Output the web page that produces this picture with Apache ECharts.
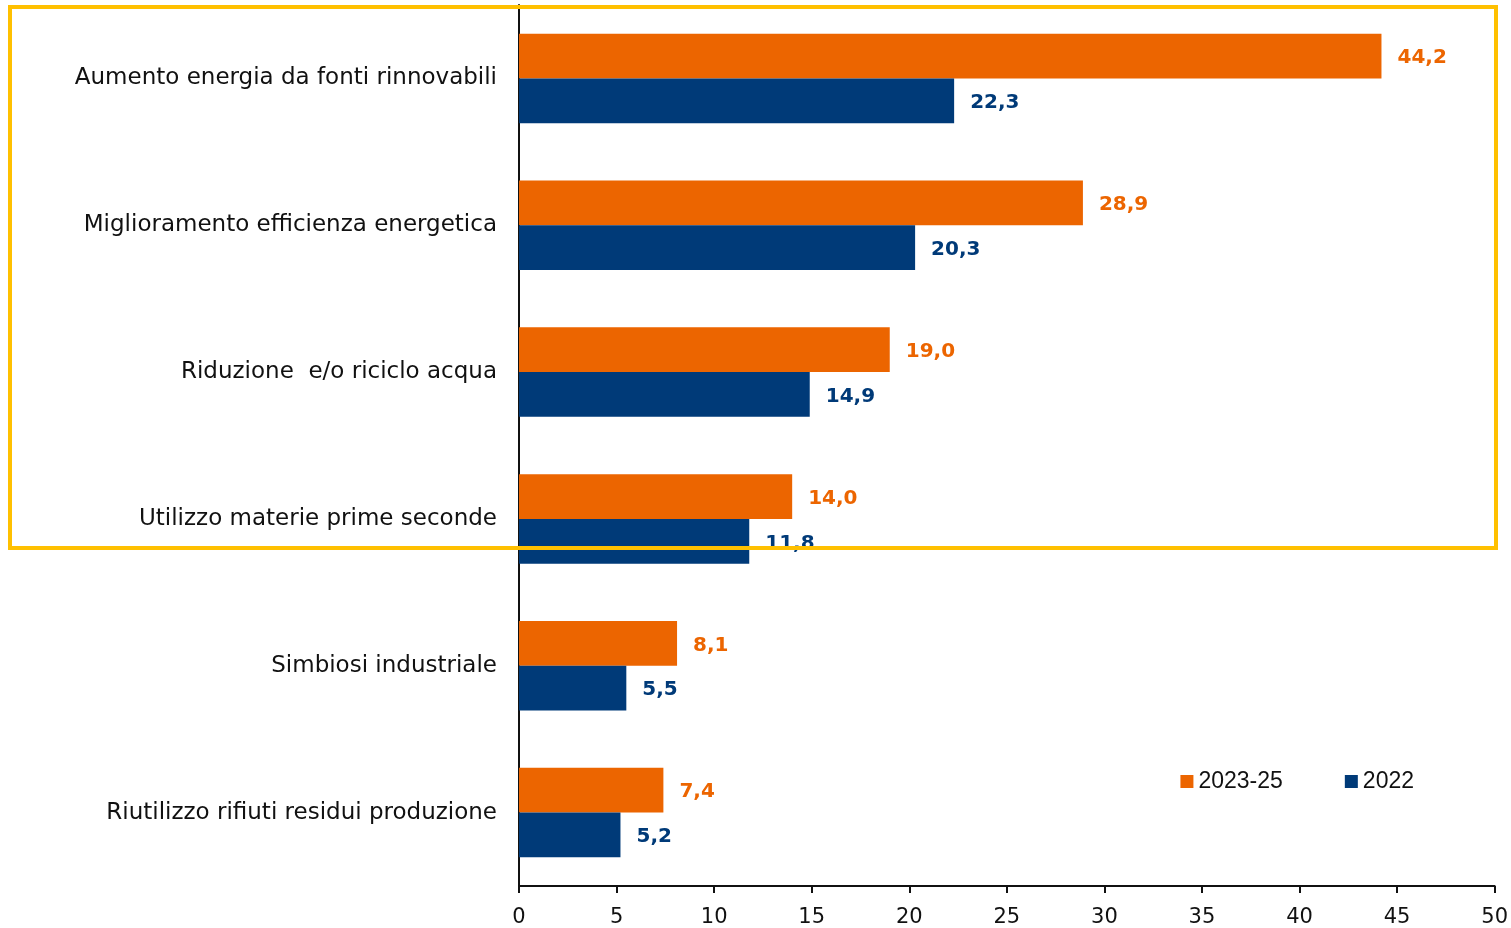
<!DOCTYPE html>
<html>
<head>
<meta charset="utf-8">
<script src="https://cdn.jsdelivr.net/npm/echarts@6/dist/echarts.min.js"></script>
<style>
  html, body { margin: 0; padding: 0; background: #fff; }
  #chart { width: 1511px; height: 928px; }
</style>
</head>
<body>
<div id="chart"></div>
<script>
// categorie, dall'alto verso il basso
const categories = [
  'Aumento energia da fonti rinnovabili',
  'Miglioramento efficienza energetica',
  'Riduzione  e/o riciclo acqua',
  'Utilizzo materie prime seconde',
  'Simbiosi industriale',
  'Riutilizzo rifiuti residui produzione'
]
const seriesNames = ['2023-25', '2022']
const values2325 = [44.2, 28.9, 19.0, 14.0, 8.1, 7.4]
const values2022 = [22.3, 20.3, 14.9, 11.8, 5.5, 5.2]
const xTicks = [0, 5, 10, 15, 20, 25, 30, 35, 40, 45, 50]

const orange = '#EC6500'
const blue = '#003A78'
const font = 'DejaVu Sans'

const chart = echarts.init(document.getElementById('chart'))

function labelFor (color) {
  return {
    show: true,
    position: 'right',
    distance: 16,
    color: color,
    fontFamily: font,
    fontWeight: 'bold',
    fontSize: 20,
    offset: [0, 2],
    formatter: p => p.value.toFixed(1).replace('.', ',')
  }
}

chart.setOption({
  animation: false,
  grid: { left: 519, right: 16, top: 5, bottom: 41, containLabel: false },
  legend: {
    data: seriesNames,
    right: 92,
    top: 765,
    itemWidth: 13,
    itemHeight: 13,
    itemGap: 62,
    icon: 'rect',
    textStyle: { fontFamily: 'Liberation Sans', fontSize: 23, color: '#111' }
  },
  xAxis: {
    type: 'value',
    min: xTicks[0],
    max: xTicks[xTicks.length - 1],
    interval: 5,
    splitLine: { show: false },
    axisLine: { show: true, lineStyle: { color: '#111', width: 2 } },
    axisTick: { show: true, length: 7, lineStyle: { color: '#111', width: 2 } },
    axisLabel: { fontFamily: font, fontSize: 21, color: '#111', margin: 21 }
  },
  yAxis: {
    type: 'category',
    data: categories,
    inverse: true,
    axisLine: { show: true, lineStyle: { color: '#111', width: 2 } },
    axisTick: { show: false },
    axisLabel: { fontFamily: font, fontSize: 23, color: '#111', margin: 22, padding: [8, 0, 0, 0] }
  },
  series: [
    {
      name: seriesNames[0],
      type: 'bar',
      data: values2325,
      itemStyle: { color: orange },
      barGap: '0%',
      barCategoryGap: '39%',
      label: labelFor(orange)
    },
    {
      name: seriesNames[1],
      type: 'bar',
      data: values2022,
      itemStyle: { color: blue },
      label: labelFor(blue)
    }
  ],
  graphic: [
    {
      type: 'rect',
      z: 100,
      shape: { x: 10, y: 7, width: 1486, height: 541 },
      style: { fill: 'none', stroke: '#FFC000', lineWidth: 4 }
    }
  ]
})
</script>
</body>
</html>
